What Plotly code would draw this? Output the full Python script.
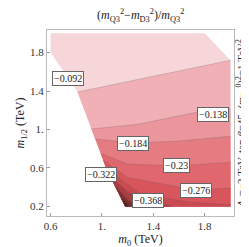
import plotly.graph_objects as go

# Outline of the allowed region (m0, m1/2 in TeV), clockwise from top-left
edge_m0 = [0.6, 0.6, 0.81, 0.917, 1.03, 1.18, 2.0, 2.0, 1.8]
edge_m12 = [2.0, 1.8, 1.39, 1.005, 0.61, 0.2, 0.2, 1.72, 2.0]
left_idx = [0, 1, 2, 3, 4, 5]  # points on the left (slanted) boundary, top to tip

# Contour levels and contour lines
levels = [-0.092, -0.138, -0.184, -0.23, -0.276, -0.322, -0.368, -0.414, -0.46]
line_m0 = [
    [0.81, 1.2, 1.58, 2.0],
    [0.917, 1.28, 1.74, 2.0],
    [0.95, 1.25, 1.6, 2.0],
    [0.99, 1.2, 1.58, 2.0],
    [1.01, 1.2, 1.73, 2.0],
    [1.03, 1.3, 1.7, 2.0],
    [1.06, 1.2, 1.36, 1.55],
    [1.1, 1.2, 1.3],
    [1.15, 1.22],
]
line_m12 = [
    [1.39, 1.50, 1.60, 1.72],
    [1.005, 1.054, 1.18, 1.22],
    [0.90, 0.86, 0.88, 0.93],
    [0.75, 0.64, 0.62, 0.66],
    [0.68, 0.50, 0.37, 0.39],
    [0.60, 0.33, 0.24, 0.22],
    [0.52, 0.35, 0.26, 0.2],
    [0.42, 0.27, 0.2],
    [0.30, 0.2],
]
band_colors = ['#f7d6da', '#f0b0b5', '#ea969c', '#e57c82', '#e0676d',
               '#d9555c', '#c94a50', '#a93e42', '#7e3032', '#5a2424']

# label positions
lab_text = ['−0.092', '−0.138', '−0.184', '−0.23', '−0.276', '−0.322', '−0.368']
lab_m0 = [0.736, 1.868, 1.242, 1.581, 1.732, 0.992, 1.362]
lab_m12 = [1.535, 1.152, 0.857, 0.622, 0.367, 0.534, 0.259]

xtick_vals = [0.6, 1.0, 1.4, 1.8]
xtick_text = ['0.6', '1.', '1.4', '1.8']
ytick_vals = [0.2, 0.6, 1.0, 1.4, 1.8]
ytick_text = ['0.2', '0.6', '1.', '1.4', '1.8']

FONT = 'Liberation Serif'
fig = go.Figure()

# whole region, top band colour
fig.add_trace(go.Scatter(x=edge_m0 + [edge_m0[0]], y=edge_m12 + [edge_m12[0]],
                         mode='lines', fill='toself', fillcolor=band_colors[0],
                         line=dict(width=0), hoverinfo='skip', showlegend=False))

x_right = max(edge_m0)
y_bot = min(edge_m12)
for k in range(len(levels)):
    xs = list(line_m0[k])
    ys = list(line_m12[k])
    if xs[-1] >= x_right - 1e-9:
        xs.append(x_right)
        ys.append(y_bot)
    y0 = ys[0]
    pts = [(edge_m0[i], edge_m12[i]) for i in left_idx if edge_m12[i] < y0]
    pts.sort(key=lambda p: p[1])
    for p in pts:
        xs.append(p[0])
        ys.append(p[1])
    xs.append(line_m0[k][0])
    ys.append(line_m12[k][0])
    fig.add_trace(go.Scatter(x=xs, y=ys, mode='lines', fill='toself',
                             fillcolor=band_colors[k + 1], line=dict(width=0),
                             hoverinfo='skip', showlegend=False))

for k in range(len(levels)):
    fig.add_trace(go.Scatter(x=line_m0[k], y=line_m12[k], mode='lines',
                             line=dict(color='rgba(90,90,90,0.35)', width=0.7),
                             hoverinfo='skip', showlegend=False))

# invisible trace to carry the right-hand axis (its title holds the parameters)
fig.add_trace(go.Scatter(x=[edge_m0[0]], y=[edge_m12[0]], yaxis='y2', mode='markers',
                         marker=dict(opacity=0), hoverinfo='skip', showlegend=False))

for t, x, y in zip(lab_text, lab_m0, lab_m12):
    fig.add_annotation(x=x, y=y, text=t, showarrow=False,
                       font=dict(family=FONT, size=10, color='#222'),
                       bgcolor='white', bordercolor='#666', borderwidth=1, borderpad=1)

fig.add_annotation(xref='paper', yref='paper', x=0.5, y=1.0, yshift=4,
                   yanchor='bottom', showarrow=False,
                   text='(<i>m</i><sub>Q3</sub><sup>2</sup>−<i>m</i><sub>D3</sub><sup>2</sup>)/<i>m</i><sub>Q3</sub><sup>2</sup>',
                   font=dict(family=FONT, size=12, color='#222'))

fig.update_layout(
    width=249, height=247,
    margin=dict(l=36, r=20, t=22, b=28),
    paper_bgcolor='white', plot_bgcolor='white',
    xaxis=dict(range=[0.572, 2.028], tickvals=xtick_vals, ticktext=xtick_text,
               showgrid=False, zeroline=False, showline=True, mirror=True,
               linecolor='#bbb', linewidth=1, ticks='inside', ticklen=3, tickcolor='#999',
               tickfont=dict(family=FONT, size=11, color='#333'),
               title=dict(text='<i>m</i><sub>0</sub> (TeV)', standoff=2,
                          font=dict(family=FONT, size=12, color='#222'))),
    yaxis=dict(range=[0.10, 2.035], tickvals=ytick_vals, ticktext=ytick_text,
               showgrid=False, zeroline=False, showline=True, mirror=True,
               linecolor='#bbb', linewidth=1, ticks='inside', ticklen=3, tickcolor='#999',
               tickfont=dict(family=FONT, size=11, color='#333'),
               title=dict(text='<i>m</i><sub>1/2</sub> (TeV)', standoff=2,
                          font=dict(family=FONT, size=12, color='#222'))),
    yaxis2=dict(overlaying='y', side='right', range=[0.10, 2.035],
                showgrid=False, zeroline=False, showline=False, showticklabels=False,
                ticks='',
                title=dict(text='<i>A</i><sub>0</sub>=−2 TeV, tan <i>β</i>=45, (<i>m</i><sub>Hu</sub><sup>0</sup>)<sup>2</sup>=1 TeV<sup>2</sup>',
                           standoff=3, font=dict(family=FONT, size=11, color='#222'))),
)
fig.write_html('out.html')
